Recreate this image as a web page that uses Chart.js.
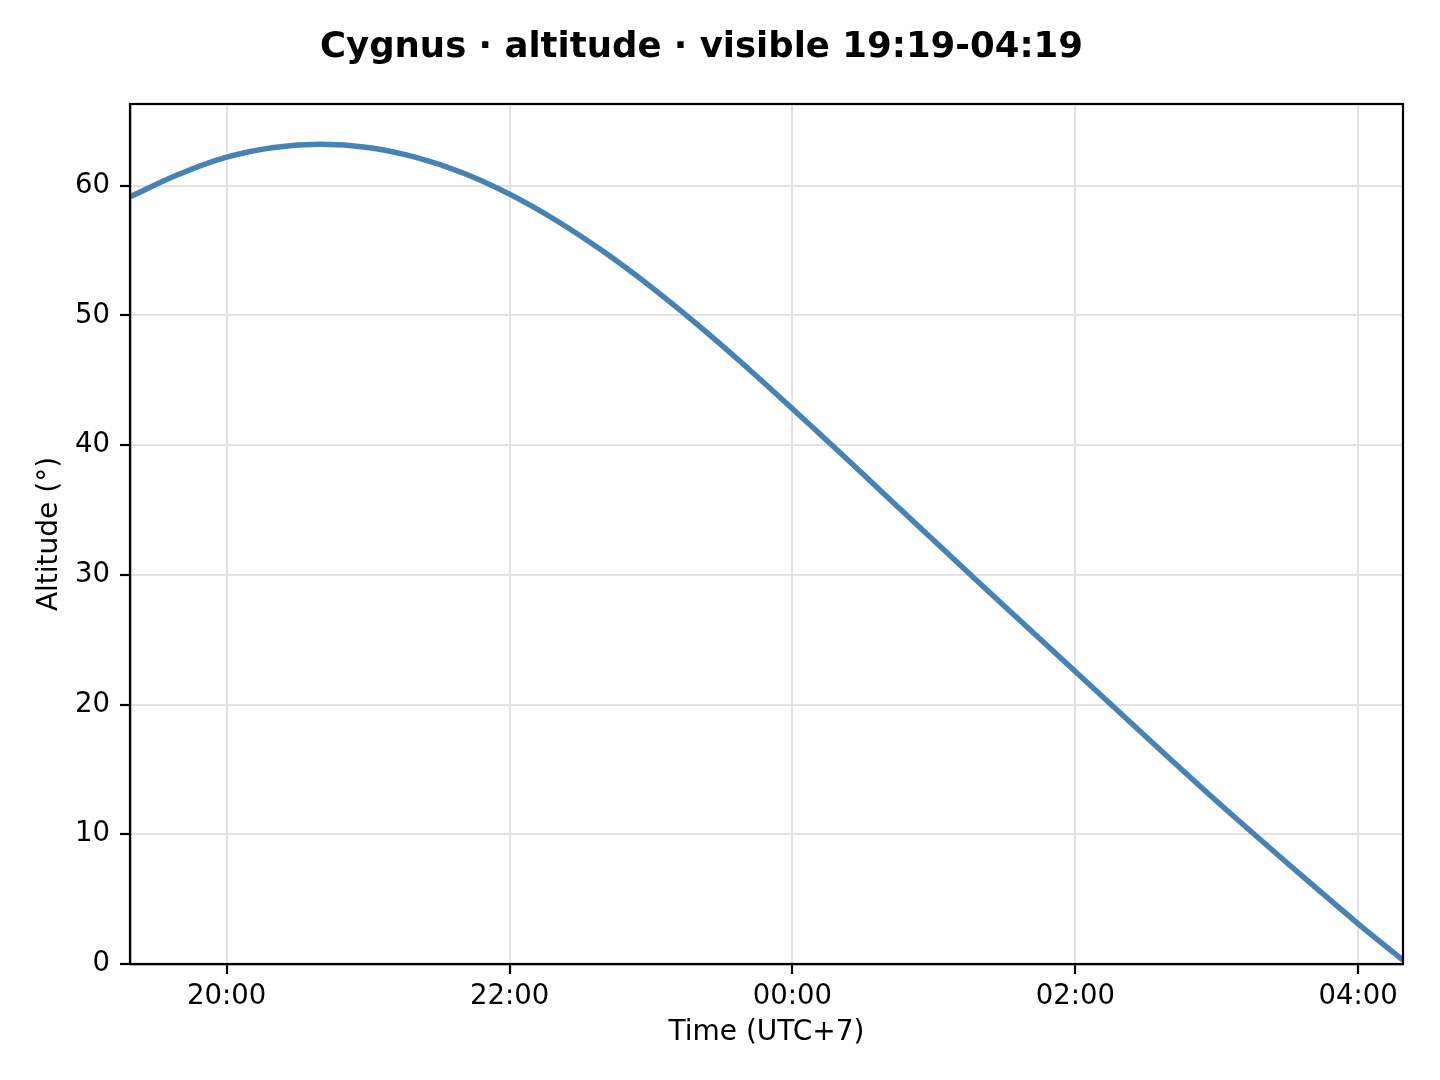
<!DOCTYPE html>
<html>
<head>
<meta charset="utf-8">
<title>Cygnus altitude</title>
<script src="https://cdn.jsdelivr.net/npm/chart.js@4.4.1/dist/chart.umd.min.js"></script>
<style>
  html, body { margin: 0; padding: 0; background: #fff; }
  #chart { display: block; }
</style>
</head>
<body>
<canvas id="chart" width="1440" height="1080"></canvas>
<script>
// sample times (UTC+7) and altitude in degrees
const times = ['19:19', '19:40', '20:00', '20:20', '20:40', '21:00', '21:20', '21:40',
  '22:00', '22:20', '22:40', '23:00', '23:20', '23:40', '00:00', '00:20', '00:40',
  '01:00', '01:20', '01:40', '02:00', '02:20', '02:40', '03:00', '03:20', '03:40',
  '04:00', '04:19'];
const altitude = [59.15, 60.9, 62.2, 62.95, 63.2, 62.95, 62.2, 61.0,
  59.35, 57.3, 54.9, 52.2, 49.25, 46.1, 42.8, 39.45, 36.05,
  32.65, 29.25, 25.9, 22.55, 19.2, 15.85, 12.55, 9.35, 6.2,
  3.1, 0.3];

const xTickLabels = ['20:00', '22:00', '00:00', '02:00', '04:00'];
const yTicks = [0, 10, 20, 30, 40, 50, 60];
const xRange = ['19:19', '04:19'];
const yRange = [0, 66.3];

const titleText = 'Cygnus · altitude · visible 19:19-04:19';

// minutes since midnight, night-wrapped so 00:00 comes after 23:59
function toMinutes(t) {
  const [h, m] = t.split(':').map(Number);
  return (h < 12 ? h + 24 : h) * 60 + m;
}
function fmtMinutes(v) {
  const h = Math.floor(v / 60) % 24;
  const m = Math.round(v % 60);
  return String(h).padStart(2, '0') + ':' + String(m).padStart(2, '0');
}

const points = times.map((t, i) => ({ x: toMinutes(t), y: altitude[i] }));

Chart.defaults.font.family = "'DejaVu Sans', sans-serif";
Chart.defaults.color = '#000';

// matplotlib-style closed box round the axes
const frame = {
  id: 'frame',
  afterDraw(chart) {
    const { ctx, chartArea: a } = chart;
    ctx.save();
    ctx.strokeStyle = '#000';
    ctx.lineWidth = 2.2;
    ctx.strokeRect(a.left, a.top, a.right - a.left, a.bottom - a.top);
    ctx.restore();
  }
};

new Chart(document.getElementById('chart'), {
  type: 'line',
  data: {
    datasets: [{
      data: points,
      borderColor: '#4682b4',
      borderWidth: 5.5,
      pointRadius: 0,
      tension: 0.4,
      fill: false
    }]
  },
  options: {
    responsive: false,
    animation: false,
    devicePixelRatio: 1,
    layout: { padding: { left: 0, right: 37, top: 0, bottom: 0 } },
    plugins: {
      legend: { display: false },
      tooltip: { enabled: false },
      title: {
        display: true,
        text: titleText,
        color: '#000',
        font: { size: 35.5, weight: 'bold' },
        lineHeight: 1.2,
        padding: { top: 26, bottom: 35.4 }
      }
    },
    scales: {
      x: {
        type: 'linear',
        min: toMinutes(xRange[0]),
        max: toMinutes(xRange[1]),
        afterFit: s => { s.height = 116; },
        afterBuildTicks: s => { s.ticks = xTickLabels.map(t => ({ value: toMinutes(t) })); },
        ticks: {
          color: '#000',
          font: { size: 27.5 },
          padding: 6,
          maxRotation: 0,
          callback: v => fmtMinutes(v)
        },
        grid: {
          color: '#e3e3e3',
          lineWidth: 2,
          tickLength: 10,
          tickColor: '#000',
          tickWidth: 2.2
        },
        border: { display: true, color: '#000', width: 2.2 },
        title: {
          display: true,
          text: 'Time (UTC+7)',
          color: '#000',
          font: { size: 28 },
          padding: { top: 0, bottom: 30 }
        }
      },
      y: {
        min: yRange[0],
        max: yRange[1],
        afterFit: s => { s.width = 130; },
        afterBuildTicks: s => { s.ticks = yTicks.map(v => ({ value: v })); },
        ticks: {
          color: '#000',
          font: { size: 27.5 },
          padding: 10
        },
        grid: {
          color: '#e3e3e3',
          lineWidth: 2,
          tickLength: 10,
          tickColor: '#000',
          tickWidth: 2.2
        },
        border: { display: true, color: '#000', width: 2.2 },
        title: {
          display: true,
          text: 'Altitude (°)',
          color: '#000',
          font: { size: 28 },
          padding: { top: 33, bottom: 0 }
        }
      }
    }
  },
  plugins: [frame]
});
</script>
</body>
</html>
